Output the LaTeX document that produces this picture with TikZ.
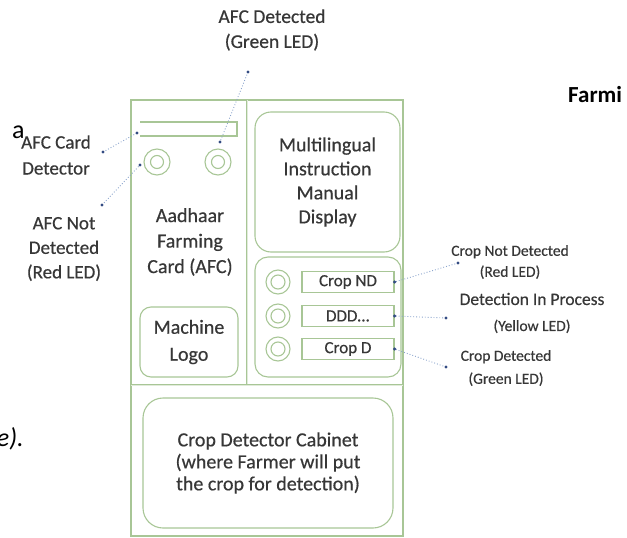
\documentclass[tikz,border=0pt]{standalone}
\usepackage{fontspec}
\setmainfont{Carlito}
\newfontfamily\lblfont[FakeBold=0.5]{Carlito}
\definecolor{boxgreen}{RGB}{168,198,150}
\definecolor{txt}{RGB}{55,55,55}
\definecolor{conncol}{RGB}{140,165,205}
\definecolor{dotcol}{RGB}{50,75,130}
\tikzset{
  gline/.style={draw=boxgreen, line width=1.1pt},
  divider/.style={draw=boxgreen, line width=0.9pt, double=boxgreen!35, double distance=1pt},
  rbox/.style={draw=boxgreen, line width=1.1pt, rounded corners=#1, inner sep=0pt},
  rbox/.default=12pt,
  lbox/.style={draw=boxgreen, line width=1.1pt, minimum width=92pt, minimum height=21pt, inner sep=0pt,
    text=txt, font=\lblfont\fontsize{17}{20}\selectfont},
  ledout/.style={circle, draw=boxgreen, line width=1.1pt, minimum size=#1, inner sep=0pt},
  ledin/.style={circle, draw=boxgreen, line width=1.1pt, minimum size=#1, inner sep=0pt},
  inner/.style={text=txt, align=center},
  leftlbl/.style={text=txt, align=center},
  rightlbl/.style={text=txt, align=center},
  conn/.style={draw=conncol, line width=0.9pt, dotted},
  dotpt/.style={fill=dotcol, circle, inner sep=0pt, minimum size=3.4pt},
}
\begin{document}
\begin{tikzpicture}[x=1pt,y=-1pt]
\useasboundingbox (0,0) rectangle (627,538);
% outer frame and dividers
\draw[gline] (131,100) rectangle (403,536);
\draw[divider] (247,100) -- (247,385);
\draw[divider] (131,385) -- (403,385);
% card slot
\draw[gline] (140,122) -- (237,122) -- (237,136) -- (140,136);
% AFC LEDs
\node[ledout=26pt] (ledR) at (157,162) {};
\node[ledin=13pt] (ledRi) at (ledR) {};
\node[ledout=26pt] (ledG) at (218,162) {};
\node[ledin=13pt] (ledGi) at (ledG) {};
% left panel texts
\node[inner, font=\lblfont\fontsize{20}{25.5}\selectfont] (aadhaar) at (190,242) {Aadhaar\\Farming\\Card (AFC)};
\node[rbox=11pt, minimum width=98pt, minimum height=70pt, inner, font=\lblfont\fontsize{20}{27}\selectfont] (logo) at (189,342) {Machine\\Logo};
% right panel
\node[rbox=16pt, minimum width=145pt, minimum height=140pt, inner, font=\lblfont\fontsize{20}{24}\selectfont] (manual) at (327.5,182) {Multilingual\\Instruction\\Manual\\Display};
\node[rbox=13pt, minimum width=146pt, minimum height=120pt] (group) at (328,317) {};
\node[ledout=24pt] (l1) at (278,282) {};
\node[ledin=14pt] (l1i) at (l1) {};
\node[ledout=24pt] (l2) at (278,316) {};
\node[ledin=14pt] (l2i) at (l2) {};
\node[ledout=24pt] (l3) at (278,349) {};
\node[ledin=14pt] (l3i) at (l3) {};
\node[lbox] (bND) at (348,282) {Crop ND};
\node[lbox] (bDDD) at (348,316) {DDD...};
\node[lbox] (bD) at (348,349) {Crop D};
% cabinet
\node[rbox=20pt, minimum width=250pt, minimum height=130pt, inner, font=\lblfont\fontsize{20}{22}\selectfont] (cab) at (268,463) {Crop Detector Cabinet\\(where Farmer will put\\the crop for detection)};
% outside labels
\node[leftlbl, font=\lblfont\fontsize{19.5}{25}\selectfont] (tAFCd) at (272,30) {AFC Detected\\(Green LED)};
\node[leftlbl, font=\lblfont\fontsize{19}{26}\selectfont] (tCard) at (56,155) {AFC Card\\Detector};
\node[leftlbl, font=\lblfont\fontsize{19}{24.5}\selectfont] (tNot) at (64,249) {AFC Not\\Detected\\(Red LED)};
\node[rightlbl, font=\lblfont\fontsize{15.5}{21}\selectfont] (tCND) at (510,262) {Crop Not Detected\\(Red LED)};
\node[rightlbl, font=\lblfont\fontsize{15.5}{26}\selectfont] (tDIP) at (532,313) {{\fontsize{17.5}{26}\selectfont Detection In Process}\\(Yellow LED)};
\node[rightlbl, font=\lblfont\fontsize{15.5}{23}\selectfont] (tCD) at (506,368) {Crop Detected\\(Green LED)};
% connector end points
\coordinate (a1) at (248,72);  \coordinate (a2) at (220,142);
\coordinate (b1) at (103,152); \coordinate (b2) at (137,133);
\coordinate (c1) at (102,205); \coordinate (c2) at (140,165);
\coordinate (d1) at (458,263); \coordinate (d2) at (bND.east);
\coordinate (e1) at (446,318); \coordinate (e2) at (bDDD.east);
\coordinate (f1) at (446,367); \coordinate (f2) at (bD.east);
\foreach \p/\q in {a1/a2,b1/b2,c1/c2,d1/d2,e1/e2,f1/f2}{
  \draw[conn] (\p) -- (\q);
  \node[dotpt] at (\p) {};
  \node[dotpt] at (\q) {};
}
% stray text fragments
\node[anchor=base west, inner sep=0pt, font=\fontsize{26}{26}\selectfont] (fa) at (12,138) {a};
\node[anchor=base west, inner sep=0pt, font=\fontsize{23}{23}\selectfont\bfseries] (farmi) at (568,102) {Farmi};
\node[anchor=base east, inner sep=0pt, font=\fontsize{26}{26}\selectfont\itshape] (fe) at (24,446) {e).};
\end{tikzpicture}
\end{document}
